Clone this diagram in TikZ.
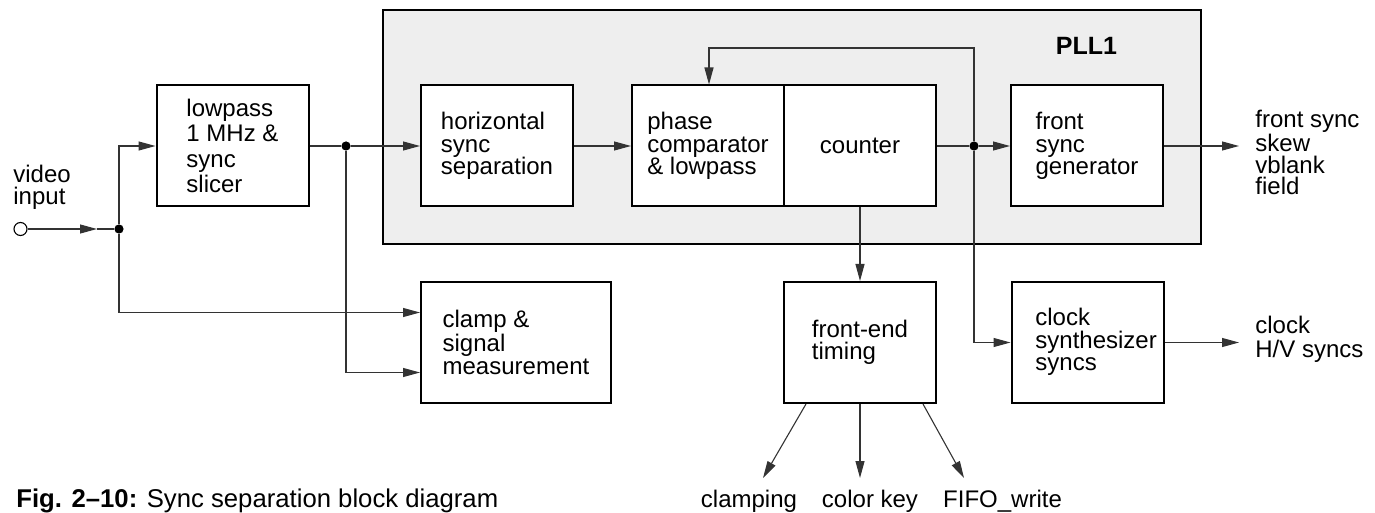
\documentclass[tikz,border=0pt]{standalone}
\usepackage{fontspec}
\setmainfont{Liberation Sans}
\usetikzlibrary{arrows.meta,calc}
\definecolor{pllgray}{HTML}{EEEEEE}
\definecolor{wire}{HTML}{333333}
\begin{document}
\begin{tikzpicture}[x=0.5pt,y=-0.5pt,
  blk/.style={draw, line width=1pt, fill=white, minimum width=76pt, minimum height=60.5pt,
    inner sep=0pt, align=left, font=\fontsize{12}{11.25}\selectfont},
  lbl/.style={inner sep=0pt, align=left, font=\fontsize{12}{11.25}\selectfont},
  conn/.style={line width=0.55pt, draw=wire},
  arr/.style={conn, -{Triangle[length=8.5pt,width=4.5pt]}},
  jdot/.style={circle, fill=black, draw=none, inner sep=0pt, minimum size=4.6pt}]
\useasboundingbox (0,0) rectangle (1375,513);

% PLL1 frame
\node[draw, line width=1pt, fill=pllgray, minimum width=409pt, minimum height=117pt, inner sep=0pt] (pll) at (792,127) {};
\node[anchor=base, inner sep=0pt, font=\fontsize{12.5}{15}\selectfont\bfseries] (plltxt) at (1086.5,55) {PLL1};

% blocks
\node[blk, font=\fontsize{12}{12.65}\selectfont] (lp) at (232.5,146) {lowpass\\1 MHz \&\\sync\\slicer};
\node[blk] (hs) at (497,146) {horizontal\\sync\\separation};
\node[blk] (pc) at (708,146) {phase\\comparator\\\& lowpass};
\node[blk] (ct) at (860,146) {counter};
\node[blk] (fs) at (1087,146) {front\\sync\\generator};
\node[blk, minimum width=95pt, font=\fontsize{12}{11.6}\selectfont] (cl) at (516,342.5) {clamp \&\\signal\\measurement};
\node[blk] (fe) at (860,342.5) {front-end\\timing};
\node[blk] (cs) at (1087.5,342.5) {};
\node[lbl, anchor=west] (cst) at (1035,342) {clock\\synthesizer\\syncs};

% input terminal and junctions
\node[circle, draw, line width=0.55pt, fill=white, minimum size=6.5pt, inner sep=0pt] (vin) at (20.5,229) {};
\node[jdot] (j1) at (119,229) {};
\node[jdot] (j2) at (346,146) {};
\node[jdot] (j3) at (974,146) {};
\coordinate (va) at (97,229);
\coordinate (fb1) at (974,48);
\coordinate (fb2) at (709,48);
\coordinate (o1) at (1239,146);
\coordinate (o2) at (1239,342.5);
\coordinate (b1) at (763,478);
\coordinate (b2) at (860,478);
\coordinate (b3) at (964,478);

% connectors
\draw[arr] (vin) -- (va);
\draw[conn] (va) -- (j1);
\draw[arr] (j1) |- (lp.west);
\draw[arr] (j1) |- ($(cl.west)+(0,-30)$);
\draw[conn] (lp.east) -- (j2);
\draw[arr] (j2) -- (hs.west);
\draw[arr] (j2) |- ($(cl.west)+(0,30)$);
\draw[arr] (hs) -- (pc);
\draw[conn] (ct.east) -- (j3);
\draw[arr] (j3) -- (fs.west);
\draw[arr] (j3) -- (fb1) -- (fb2) -- (fb2 |- pc.north);
\draw[arr] (j3) |- (cs.west);
\draw[arr] (ct) -- (fe);
\draw[arr] (fs) -- (o1);
\draw[arr] (cs) -- (o2);
\draw[arr] ($(fe.south west)+(23,0)$) -- (b1);
\draw[arr] (fe.south) -- (b2);
\draw[arr] ($(fe.south east)+(-14,0)$) -- (b3);

% labels
\node[lbl, anchor=west, font=\fontsize{12}{11}\selectfont] (vl) at (13,187.75) {video\\input};
\node[lbl, anchor=west, font=\fontsize{12}{10.7}\selectfont] (out1) at (1255,152.3) {front sync\\skew\\vblank\\field};
\node[lbl, anchor=west, font=\fontsize{12}{12}\selectfont] (out2) at (1255,339) {clock\\H/V syncs};
\node[anchor=base, inner sep=0pt, font=\fontsize{12}{14}\selectfont] (l1) at (749,507) {clamping};
\node[anchor=base, inner sep=0pt, font=\fontsize{12}{14}\selectfont] (l2) at (870,507) {color key};
\node[anchor=base, inner sep=0pt, font=\fontsize{12}{14}\selectfont] (l3) at (1002.5,507) {FIFO\_write};
\node[anchor=base west, inner sep=0pt, font=\fontsize{12.85}{15}\selectfont] (cap) at (16,507) {\textbf{Fig. 2–10:} Sync separation block diagram};
\end{tikzpicture}
\end{document}
